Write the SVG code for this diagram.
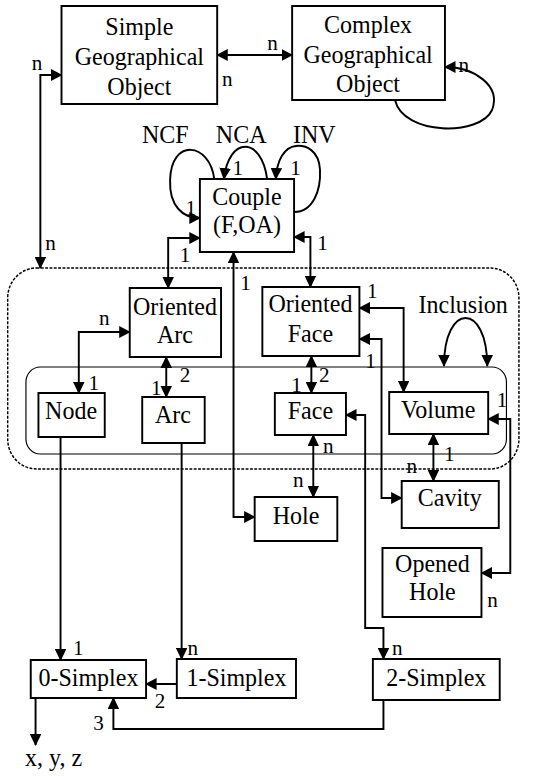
<svg xmlns="http://www.w3.org/2000/svg" width="542" height="776" viewBox="0 0 542 776">
<style>
.box{fill:#fff;stroke:#000;stroke-width:2}
.t{font-family:"Liberation Serif","DejaVu Serif","Noto Serif","Times New Roman",serif;font-size:25px;text-anchor:middle;fill:#000}
.l{font-family:"Liberation Serif","DejaVu Serif","Noto Serif","Times New Roman",serif;font-size:22px;fill:#000}
.c{fill:none;stroke:#000;stroke-width:2}
.d{marker-start:url(#ah);marker-end:url(#ah)}
.s{marker-end:url(#ah)}
.outer{fill:none;stroke:#000;stroke-width:1.5;stroke-dasharray:3 1.5}
.inner{fill:none;stroke:#000;stroke-width:1.2}
</style>
<defs>
<marker id="ah" markerUnits="userSpaceOnUse" markerWidth="12" markerHeight="12" refX="11" refY="6" orient="auto-start-reverse">
<path d="M0,0 L12,6 L0,12 z" fill="#000"/>
</marker>
</defs>
<rect width="542" height="776" fill="#fff"/>
<g id="diagram" transform="scale(0.961,1)">
<g id="groups">
<rect class="outer" x="8" y="268" width="532" height="201" rx="30"/>
<rect class="inner" x="27" y="367" width="500" height="87" rx="15"/>
</g>
<g id="connectors">
<path class="c d" d="M226,55 L304,55"/>
<path class="c d" d="M64,75 L42,75 L42,268"/>
<path class="c s" d="M411,100 C420,136 500,136 512,110 C522,85 492,67 463,67"/>
<path class="c s" d="M223,179 C218,142 178,138 177,180 C176,206 190,218 208,218"/>
<path class="c s" d="M278,179 C272,136 238,136 233,179"/>
<path class="c s" d="M306,212 C326,212 334,190 333,170 C332,150 318,145 308,146 C296,147 288,160 287,179"/>
<path class="c d" d="M208,238 L175,238 L175,288"/>
<path class="c d" d="M306,237 L323,237 L323,287"/>
<path class="c d" d="M243,252 L243,517 L265,517"/>
<path class="c d" d="M135,332 L82,332 L82,393"/>
<path class="c d" d="M173,357 L173,397"/>
<path class="c d" d="M324,356 L324,393"/>
<path class="c d" d="M374,308 L420,308 L420,392"/>
<path class="c d" d="M374,339 L397,339 L397,498 L418,498"/>
<path class="c d" d="M326,435 L326,497"/>
<path class="c d" d="M360,415 L380,415 L380,628 L399,628 L399,659"/>
<path class="c d" d="M451,434 L451,481"/>
<path class="c d" d="M508,419 L531,419 L531,573 L501,573"/>
<path class="c s" d="M63,437 L63,660"/>
<path class="c s" d="M189,443 L189,659"/>
<path class="c s" d="M184,684 L152,684"/>
<path class="c s" d="M399,700 L399,729 L118,729 L118,698"/>
<path class="c s" d="M37,698 L37,745"/>
<path class="c d" d="M462,366 C462,302 507,302 507,366"/>
</g>
<g id="simple"><rect class="box" x="64" y="6" width="162" height="98"/>
<text class="t" x="145" y="35">Simple</text><text class="t" x="145" y="65">Geographical</text><text class="t" x="145" y="95">Object</text></g>
<g id="complex"><rect class="box" x="304" y="6" width="159" height="94"/>
<text class="t" x="383" y="33">Complex</text><text class="t" x="383" y="63">Geographical</text><text class="t" x="383" y="92">Object</text></g>
<g id="couple"><rect class="box" x="208" y="179" width="98" height="73"/>
<text class="t" x="257" y="205">Couple</text><text class="t" x="257" y="233">(F,OA)</text></g>
<g id="oriented-arc"><rect class="box" x="135" y="288" width="95" height="69"/>
<text class="t" x="182" y="315">Oriented</text><text class="t" x="182" y="343">Arc</text></g>
<g id="oriented-face"><rect class="box" x="273" y="287" width="101" height="69"/>
<text class="t" x="323" y="312">Oriented</text><text class="t" x="323" y="342">Face</text></g>
<g id="node"><rect class="box" x="40" y="393" width="69" height="44"/><text class="t" x="74" y="419">Node</text></g>
<g id="arc"><rect class="box" x="148" y="397" width="65" height="46"/><text class="t" x="180" y="423">Arc</text></g>
<g id="face"><rect class="box" x="286" y="393" width="74" height="42"/><text class="t" x="323" y="419">Face</text></g>
<g id="volume"><rect class="box" x="405" y="392" width="103" height="42"/><text class="t" x="456" y="418">Volume</text></g>
<g id="hole"><rect class="box" x="265" y="497" width="86" height="44"/><text class="t" x="308" y="524">Hole</text></g>
<g id="cavity"><rect class="box" x="418" y="481" width="101" height="47"/><text class="t" x="468" y="506">Cavity</text></g>
<g id="opened-hole"><rect class="box" x="398" y="548" width="103" height="69"/>
<text class="t" x="450" y="572">Opened</text><text class="t" x="450" y="600">Hole</text></g>
<g id="simplex0"><rect class="box" x="32" y="660" width="120" height="38"/><text class="t" x="92" y="686">0-Simplex</text></g>
<g id="simplex1"><rect class="box" x="184" y="659" width="124" height="39"/><text class="t" x="246" y="686">1-Simplex</text></g>
<g id="simplex2"><rect class="box" x="388" y="659" width="132" height="41"/><text class="t" x="454" y="686">2-Simplex</text></g>
<g id="labels">
<text class="t" x="172" y="143">NCF</text>
<text class="t" x="251" y="143">NCA</text>
<text class="t" x="327" y="143">INV</text>
<text class="t" x="482" y="313">Inclusion</text>
<text class="t" x="26" y="766" style="text-anchor:start">x, y, z</text>
<text class="l" x="278" y="50">n</text>
<text class="l" x="231" y="86">n</text>
<text class="l" x="477" y="72">n</text>
<text class="l" x="33" y="70">n</text>
<text class="l" x="47" y="250">n</text>
<text class="l" x="193" y="215">1</text>
<text class="l" x="242" y="175">1</text>
<text class="l" x="302" y="175">1</text>
<text class="l" x="187" y="262">1</text>
<text class="l" x="330" y="250">1</text>
<text class="l" x="250" y="290">1</text>
<text class="l" x="103" y="325">n</text>
<text class="l" x="92" y="390">1</text>
<text class="l" x="157" y="395">1</text>
<text class="l" x="187" y="382">2</text>
<text class="l" x="382" y="298">1</text>
<text class="l" x="380" y="368">1</text>
<text class="l" x="303" y="392">1</text>
<text class="l" x="332" y="382">2</text>
<text class="l" x="517" y="407">1</text>
<text class="l" x="336" y="453">n</text>
<text class="l" x="305" y="487">n</text>
<text class="l" x="462" y="461">1</text>
<text class="l" x="423" y="473">n</text>
<text class="l" x="507" y="607">n</text>
<text class="l" x="76" y="655">1</text>
<text class="l" x="195" y="655">n</text>
<text class="l" x="408" y="655">n</text>
<text class="l" x="161" y="708">2</text>
<text class="l" x="97" y="730">3</text>
</g>
</g>
</svg>
